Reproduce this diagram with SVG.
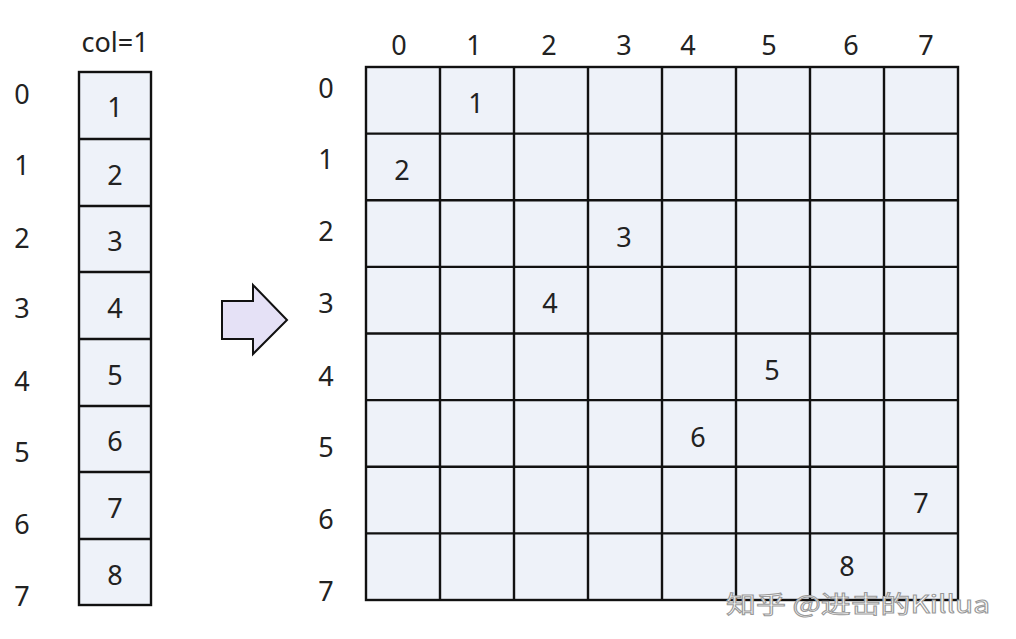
<svg xmlns="http://www.w3.org/2000/svg" width="1016" height="639" viewBox="0 0 1016 639">
<defs>
<style>
.cell{fill:#eef2f9;stroke:#111;stroke-width:2.4}
.t{font-family:"Noto Sans","Open Sans",sans-serif;font-size:27px;fill:#222;text-anchor:middle;dominant-baseline:central}
.wm{font-family:"Noto Sans CJK SC","Noto Sans",sans-serif;font-size:24px;fill:#fff;stroke:#999;stroke-width:1;text-anchor:start}
</style>
</defs>
<rect width="1016" height="639" fill="#fff"/>
<g id="column">
<text class="t" x="115" y="41">col=1</text>
<rect class="cell" x="79" y="72" width="72" height="533"/>
<g stroke="#111" stroke-width="2.4">
<line x1="79" y1="139" x2="151" y2="139"/><line x1="79" y1="206" x2="151" y2="206"/><line x1="79" y1="272" x2="151" y2="272"/><line x1="79" y1="339" x2="151" y2="339"/><line x1="79" y1="406" x2="151" y2="406"/><line x1="79" y1="472" x2="151" y2="472"/><line x1="79" y1="539" x2="151" y2="539"/>
</g>
<text class="t" x="115" y="106">1</text><text class="t" x="115" y="174">2</text><text class="t" x="115" y="240">3</text><text class="t" x="115" y="307">4</text><text class="t" x="115" y="374">5</text><text class="t" x="115" y="440">6</text><text class="t" x="115" y="507">7</text><text class="t" x="115" y="574">8</text>
<text class="t" x="22" y="93">0</text><text class="t" x="22" y="164">1</text><text class="t" x="22" y="237">2</text><text class="t" x="22" y="307">3</text><text class="t" x="22" y="380">4</text><text class="t" x="22" y="451">5</text><text class="t" x="22" y="523">6</text><text class="t" x="22" y="595">7</text>
</g>
<g id="arrow">
<polygon points="222,301 253,301 253,285 287,320 253,354 253,339 222,339" fill="#e5e1f6" stroke="#111" stroke-width="2" stroke-linejoin="miter"/>
</g>
<g id="grid">
<rect class="cell" x="366" y="67" width="592" height="533"/>
<g stroke="#111" stroke-width="2.4">
<line x1="440" y1="67" x2="440" y2="600"/><line x1="514" y1="67" x2="514" y2="600"/><line x1="588" y1="67" x2="588" y2="600"/><line x1="662" y1="67" x2="662" y2="600"/><line x1="736" y1="67" x2="736" y2="600"/><line x1="810" y1="67" x2="810" y2="600"/><line x1="884" y1="67" x2="884" y2="600"/>
<line x1="366" y1="133.6" x2="958" y2="133.6"/><line x1="366" y1="200.2" x2="958" y2="200.2"/><line x1="366" y1="266.9" x2="958" y2="266.9"/><line x1="366" y1="333.5" x2="958" y2="333.5"/><line x1="366" y1="400.1" x2="958" y2="400.1"/><line x1="366" y1="466.8" x2="958" y2="466.8"/><line x1="366" y1="533.4" x2="958" y2="533.4"/>
</g>
<text class="t" x="399" y="44">0</text><text class="t" x="474" y="44">1</text><text class="t" x="549" y="44">2</text><text class="t" x="624" y="44">3</text><text class="t" x="688" y="44">4</text><text class="t" x="769" y="44">5</text><text class="t" x="851" y="44">6</text><text class="t" x="926" y="44">7</text>
<text class="t" x="326" y="87">0</text><text class="t" x="326" y="158">1</text><text class="t" x="326" y="230">2</text><text class="t" x="326" y="302">3</text><text class="t" x="326" y="375">4</text><text class="t" x="326" y="446">5</text><text class="t" x="326" y="518">6</text><text class="t" x="326" y="590">7</text>
<text class="t" x="476" y="102">1</text><text class="t" x="402" y="169">2</text><text class="t" x="624" y="236">3</text><text class="t" x="550" y="302">4</text><text class="t" x="772" y="369">5</text><text class="t" x="698" y="436">6</text><text class="t" x="921" y="502">7</text><text class="t" x="847" y="565">8</text>
</g>
<text class="wm" x="726" y="613" textLength="264" lengthAdjust="spacingAndGlyphs">知乎 @进击的Killua</text>
</svg>
